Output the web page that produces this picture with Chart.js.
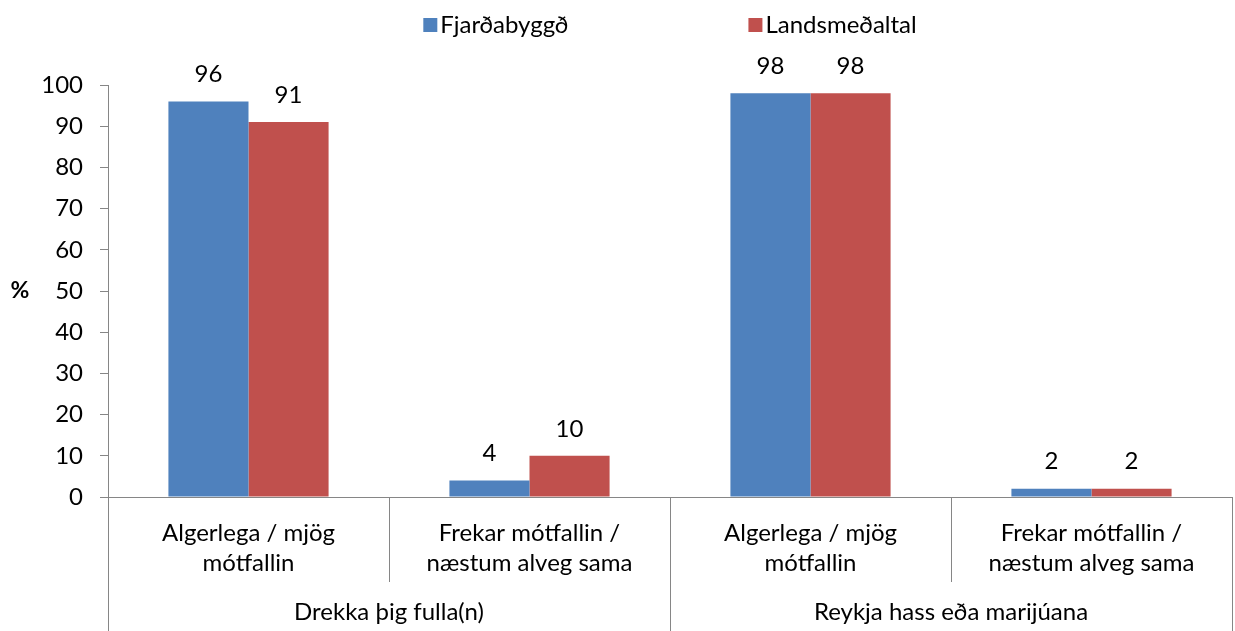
<!DOCTYPE html>
<html>
<head>
<meta charset="utf-8">
<script src="https://cdn.jsdelivr.net/npm/chart.js@4"></script>
<style>
  body { margin: 0; background: #fff; }
  #wrap { width: 1235px; height: 631px; }
</style>
</head>
<body>
<div id="wrap"><canvas id="chart" width="1235" height="631"></canvas></div>
<script>
// Data
const categories = [
    ["Algerlega / mjög", "mótfallin"],
    ["Frekar mótfallin /", "næstum alveg sama"],
    ["Algerlega / mjög", "mótfallin"],
    ["Frekar mótfallin /", "næstum alveg sama"]
];
const groups = ["Drekka þig fulla(n)", "Reykja hass eða marijúana"];
const seriesNames = ["Fjarðabyggð", "Landsmeðaltal"];
const fjardabyggd = [96, 4, 98, 2];
const landsmedaltal = [91, 10, 98, 2];
const yMin = 0, yMax = 100, yStep = 10;

const FONT = "Lato, 'Open Sans', sans-serif";
const SIZE = 24;
const AXIS = "#868686";
const colors = ["#4F81BD", "#C0504D"];

// Legend, value labels, "%" title and the two-level category dividers
const extras = {
    id: "extras",
    afterDatasetsDraw(chart) {
        const ctx = chart.ctx;
        ctx.save();
        ctx.font = SIZE + "px " + FONT;
        ctx.fillStyle = "#000";
        ctx.textAlign = "center";
        ctx.textBaseline = "middle";
        chart.data.datasets.forEach((ds, i) => {
            chart.getDatasetMeta(i).data.forEach((bar, j) => {
                ctx.fillText(String(ds.data[j]), bar.x, bar.y - 27);
            });
        });
        ctx.restore();
    },
    afterDraw(chart) {
        const ctx = chart.ctx;
        const a = chart.chartArea;
        const n = chart.data.labels.length;
        const step = (a.right - a.left) / n;
        ctx.save();

        // dividers under the axis
        ctx.strokeStyle = AXIS;
        ctx.lineWidth = 1;
        for (let i = 0; i <= n; i++) {
            const x = Math.round(a.left + i * step) + 0.5;
            const outer = i % 2 === 0;
            ctx.beginPath();
            ctx.moveTo(x, a.bottom);
            ctx.lineTo(x, outer ? chart.height : a.bottom + 85);
            ctx.stroke();
        }

        // group labels
        ctx.fillStyle = "#000";
        ctx.font = SIZE + "px " + FONT;
        ctx.textAlign = "center";
        ctx.textBaseline = "middle";
        groups.forEach((g, i) => {
            ctx.fillText(g, a.left + (i * 2 + 1) * step, a.bottom + 115);
        });

        // y title
        ctx.font = "bold 23px " + FONT;
        ctx.fillText("%", 20, (a.top + a.bottom) / 2);

        // legend
        ctx.font = SIZE + "px " + FONT;
        ctx.textAlign = "left";
        const box = 14, gapText = 3, gapItem = 180;
        const widths = seriesNames.map(s => box + gapText + ctx.measureText(s).width);
        const total = widths[0] + gapItem + widths[1];
        let x = (a.left + a.right) / 2 - total / 2;
        const y = 25;
        seriesNames.forEach((s, i) => {
            ctx.fillStyle = colors[i];
            ctx.fillRect(x, y - box / 2, box, box);
            ctx.fillStyle = "#000";
            ctx.fillText(s, x + box + gapText, y);
            x += widths[i] + gapItem;
        });
        ctx.restore();
    }
};

new Chart(document.getElementById("chart"), {
    type: "bar",
    data: {
        labels: categories,
        datasets: [
            { label: seriesNames[0], data: fjardabyggd, backgroundColor: colors[0] },
            { label: seriesNames[1], data: landsmedaltal, backgroundColor: colors[1] }
        ]
    },
    options: {
        responsive: false,
        animation: false,
        layout: { padding: { top: 85, left: 0, right: 3, bottom: 0 } },
        datasets: { bar: { categoryPercentage: 0.57, barPercentage: 1 } },
        plugins: { legend: { display: false }, tooltip: { enabled: false } },
        scales: {
            x: {
                grid: { display: false },
                border: { color: AXIS },
                ticks: { color: "#000", font: { family: FONT, size: SIZE, lineHeight: 1.25 }, padding: 13, maxRotation: 0 },
                afterFit(scale) { scale.height = 134; }
            },
            y: {
                min: yMin,
                max: yMax,
                grid: { drawOnChartArea: false, tickLength: 8, color: AXIS },
                border: { color: AXIS },
                ticks: { stepSize: yStep, color: "#000", font: { family: FONT, size: SIZE }, padding: 17 },
                afterFit(scale) { scale.width = 108; }
            }
        }
    },
    plugins: [extras]
});
</script>
</body>
</html>
